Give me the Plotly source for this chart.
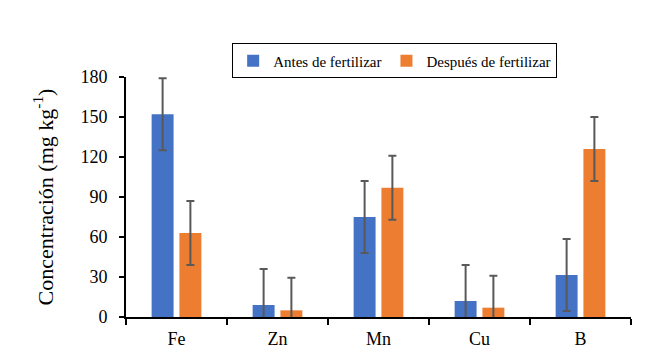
import plotly.graph_objects as go

categories = ["Fe", "Zn", "Mn", "Cu", "B"]
antes = [152, 9, 75, 12, 31.5]
antes_err = [27, 27, 27, 27, 27]
despues = [63, 5, 97, 7, 126]
despues_err = [24, 24.5, 24, 24, 24]
y_ticks = [0, 30, 60, 90, 120, 150, 180]

font_family = "Liberation Serif"
err_color = "#595959"

fig = go.Figure()
fig.add_trace(go.Bar(
    name="Antes de fertilizar", x=categories, y=antes,
    marker=dict(color="#4472C4", line=dict(width=0)),
    error_y=dict(type="data", array=antes_err, color=err_color, thickness=2, width=4),
))
fig.add_trace(go.Bar(
    name="Después de fertilizar", x=categories, y=despues,
    marker=dict(color="#ED7D31", line=dict(width=0)),
    error_y=dict(type="data", array=despues_err, color=err_color, thickness=2, width=4),
))

fig.update_layout(
    width=656, height=355,
    margin=dict(l=118, r=33, t=69, b=46),
    paper_bgcolor="white", plot_bgcolor="white",
    barmode="group", bargap=0.45, bargroupgap=0.21,
    font=dict(family=font_family, color="black", size=18),
    showlegend=True,
    legend=dict(
        orientation="h", x=0.532, xanchor="center", y=1.14, yanchor="top",
        bordercolor="black", borderwidth=1, font=dict(size=15, family=font_family),
        itemwidth=30, tracegroupgap=0,
    ),
    xaxis=dict(
        showline=True, linecolor="black", linewidth=2,
        ticks="outside", tickson="boundaries", ticklen=6, tickwidth=2, tickcolor="black",
        tickfont=dict(size=18, family=font_family), showgrid=False, ticklabelstandoff=4,
    ),
    yaxis=dict(
        range=[0, 180], tickvals=y_ticks, showline=True, linecolor="black", linewidth=2,
        ticks="outside", ticklen=5, tickwidth=2, tickcolor="black",
        tickfont=dict(size=18, family=font_family), showgrid=False, zeroline=False,
        ticklabelstandoff=8,
        title=dict(text="Concentración (mg kg<sup>-1</sup>)", font=dict(size=22, family=font_family), standoff=21),
    ),
)

fig.write_html("out.html")
